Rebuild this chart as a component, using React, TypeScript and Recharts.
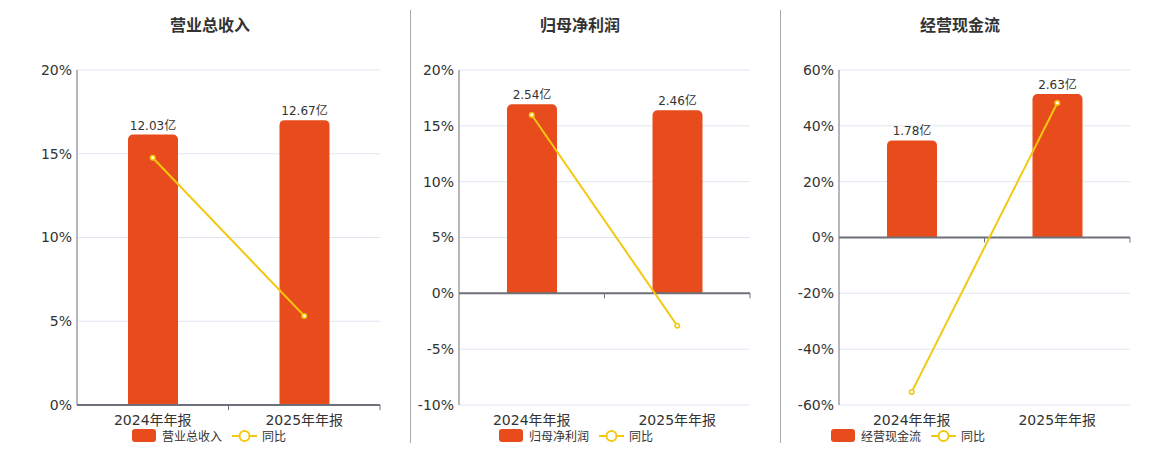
import React from 'react';
import {
  ComposedChart, Bar, Line, XAxis, YAxis, CartesianGrid, LabelList, ReferenceLine,
} from 'recharts';

// ======================
// DATA
// ======================
const categories = ['2024年年报', '2025年年报'];

const revenue = [12.03, 12.67];
const revenueYoy = [14.76, 5.32];

const profit = [2.54, 2.46];
const profitYoy = [15.97, -2.9];

const cashFlow = [1.78, 2.63];
const cashFlowYoy = [-55.3, 48.2];

const revenueTicks = [0, 5, 10, 15, 20];
const profitTicks = [-10, -5, 0, 5, 10, 15, 20];
const cashFlowTicks = [-60, -40, -20, 0, 20, 40, 60];

// ======================
// STYLE
// ======================
const BAR_COLOR = '#e84c1c';
const LINE_COLOR = '#f3c80f';
const AXIS_COLOR = '#6e7079';
const GRID_COLOR = '#e0e6f1';
const TEXT_COLOR = '#333';
const FONT = '"DejaVu Sans", "Noto Sans CJK SC", sans-serif';

interface PanelProps {
  title: string;
  seriesName: string;
  values: number[];
  yoy: number[];
  ticks: number[];
  amountDomain: [number, number];
  left: number;
  width: number;
  axisWidth: number;
  titleCenter: number;
  legendLeft: number;
}

// zero line drawn with the category boundary ticks hanging below it
function ZeroAxis(props: any) {
  const { x1, y1, x2, y2 } = props;
  const mid = (x1 + x2) / 2;
  return (
    <g>
      <line x1={x1} y1={y1} x2={x2} y2={y2} stroke={AXIS_COLOR} strokeWidth={2} />
      <line x1={mid} y1={y1} x2={mid} y2={y1 + 5} stroke={AXIS_COLOR} strokeWidth={1} />
      <line x1={x2} y1={y1} x2={x2} y2={y1 + 5} stroke={AXIS_COLOR} strokeWidth={1} />
    </g>
  );
}

function Legend({ name, left }: { name: string; left: number }) {
  return (
    <div
      style={{
        position: 'absolute', left, top: 428, height: 15,
        display: 'flex', alignItems: 'center', fontSize: 12, color: TEXT_COLOR, fontFamily: FONT,
      }}
    >
      <span style={{ width: 24, height: 13, borderRadius: 3, background: BAR_COLOR, display: 'inline-block' }} />
      <span style={{ marginLeft: 6 }}>{name}</span>
      <svg width={25} height={14} style={{ marginLeft: 10 }}>
        <line x1={0} y1={7} x2={25} y2={7} stroke={LINE_COLOR} strokeWidth={2} />
        <circle cx={12.5} cy={7} r={5} fill="#fff" stroke={LINE_COLOR} strokeWidth={2} />
      </svg>
      <span style={{ marginLeft: 5 }}>同比</span>
    </div>
  );
}

function Panel(p: PanelProps) {
  const data = categories.map((c, i) => ({ name: c, value: p.values[i], yoy: p.yoy[i] }));
  const pctDomain: [number, number] = [p.ticks[0], p.ticks[p.ticks.length - 1]];
  return (
    <>
      <div
        style={{
          position: 'absolute', left: p.titleCenter - 100, width: 200, top: 12, textAlign: 'center',
          fontSize: 16, fontWeight: 'bold', color: TEXT_COLOR, fontFamily: FONT,
        }}
      >
        {p.title}
      </div>
      <div style={{ position: 'absolute', left: p.left, top: 0 }}>
        <ComposedChart
          width={p.width}
          height={450}
          data={data}
          margin={{ top: 70, right: 10, left: 0, bottom: 15 }}
          style={{ fontFamily: FONT }}
        >
          <CartesianGrid yAxisId="pct" vertical={false} stroke={GRID_COLOR} />
          <XAxis
            dataKey="name"
            height={30}
            axisLine={false}
            tickLine={false}
            tickMargin={4}
            tick={{ fill: TEXT_COLOR, fontSize: 14 }}
          />
          <YAxis
            yAxisId="pct"
            width={p.axisWidth}
            domain={pctDomain}
            ticks={p.ticks}
            interval={0}
            tickFormatter={(v: number) => `${v}%`}
            axisLine={{ stroke: AXIS_COLOR }}
            tickLine={false}
            tickSize={5}
            tickMargin={0}
            tick={{ fill: TEXT_COLOR, fontSize: 14 }}
          />
          <YAxis yAxisId="amt" orientation="right" hide domain={p.amountDomain} allowDataOverflow />
          <Bar
            yAxisId="amt"
            dataKey="value"
            name={p.seriesName}
            fill={BAR_COLOR}
            barSize={50}
            radius={[5, 5, 0, 0]}
            isAnimationActive={false}
          >
            <LabelList
              dataKey="value"
              position="top"
              offset={5}
              formatter={(v: number) => `${v.toFixed(2)}亿`}
              style={{ fill: TEXT_COLOR, fontSize: 12 }}
            />
          </Bar>
          <ReferenceLine yAxisId="pct" y={0} shape={ZeroAxis} />
          <Line
            yAxisId="pct"
            dataKey="yoy"
            name="同比"
            stroke={LINE_COLOR}
            strokeWidth={2}
            dot={{ r: 2.2, fill: '#fff', stroke: LINE_COLOR, strokeWidth: 1.6 }}
            activeDot={false}
            isAnimationActive={false}
          />
        </ComposedChart>
      </div>
      <Legend name={p.seriesName} left={p.legendLeft} />
    </>
  );
}

export default function App() {
  return (
    <div style={{ position: 'absolute', left: 0, top: 0, width: 1160, height: 450, background: '#fff', overflow: 'hidden' }}>
      <Panel
        title="营业总收入" seriesName="营业总收入"
        values={revenue} yoy={revenueYoy} ticks={revenueTicks} amountDomain={[0, 14.9]}
        left={0} width={390} axisWidth={77} titleCenter={210} legendLeft={132}
      />
      <div style={{ position: 'absolute', left: 410, top: 10, width: 1, height: 433, background: '#aaa' }} />
      <Panel
        title="归母净利润" seriesName="归母净利润"
        values={profit} yoy={profitYoy} ticks={profitTicks} amountDomain={[-1.5, 3]}
        left={400} width={360} axisWidth={59} titleCenter={580} legendLeft={499}
      />
      <div style={{ position: 'absolute', left: 780, top: 10, width: 1, height: 433, background: '#aaa' }} />
      <Panel
        title="经营现金流" seriesName="经营现金流"
        values={cashFlow} yoy={cashFlowYoy} ticks={cashFlowTicks} amountDomain={[-3.07, 3.07]}
        left={780} width={360} axisWidth={59} titleCenter={960} legendLeft={831}
      />
    </div>
  );
}
